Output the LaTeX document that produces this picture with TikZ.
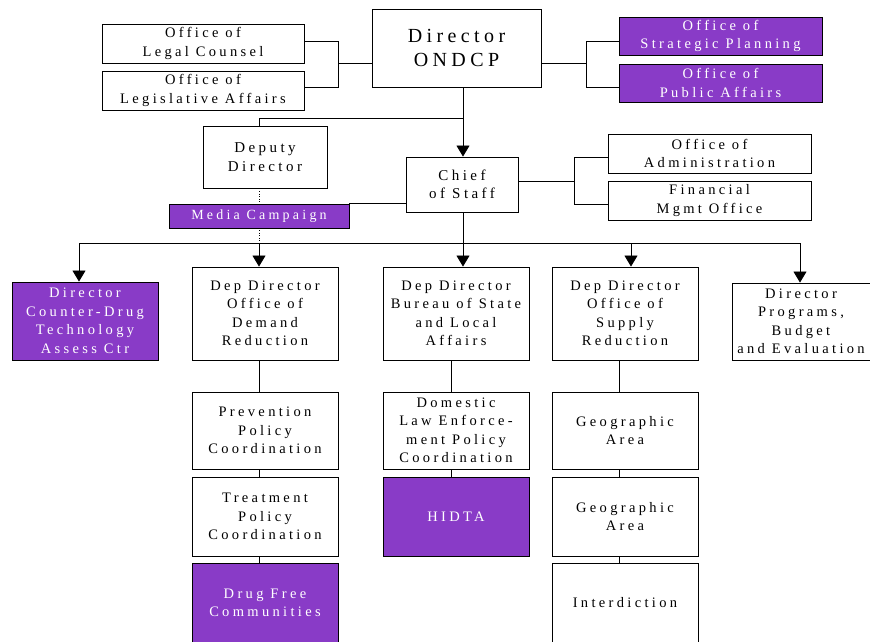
\documentclass[tikz,border=0pt]{standalone}
\usepackage{fontspec}
\setmainfont{Liberation Serif}
\newfontfamily\boxfont{Liberation Serif}[LetterSpace=23]
\usetikzlibrary{arrows.meta}
\definecolor{ondcppurple}{RGB}{137,59,199}
\tikzset{
  box/.style={draw=black, line width=0.9pt, fill=white, rectangle, inner sep=0pt, align=center,
    font={\boxfont\fontsize{14.5}{18.5}\selectfont}},
  pbox/.style={box, fill=ondcppurple, text=white},
  conn/.style={line width=0.8pt, black},
  arr/.style={conn, -{Triangle[width=13pt,length=11pt]}},
}
\begin{document}
\begin{tikzpicture}[x=1pt,y=-1pt]
\useasboundingbox (0,0) rectangle (870,641);
% top level
\node[box, minimum width=202pt, minimum height=39pt] (legal) at (203,43.5) {Office of\\Legal Counsel};
\node[box, minimum width=202pt, minimum height=39pt] (legis) at (203,90.5) {Office of\\Legislative Affairs};
\node[box, minimum width=169pt, minimum height=78pt, font={\fontspec{Liberation Serif}[LetterSpace=22]\fontsize{20}{24}\selectfont}] (dir) at (456.5,48) {Director\\ONDCP};
\node[pbox, minimum width=203pt, minimum height=38pt] (strat) at (720.5,36) {Office of\\Strategic Planning};
\node[pbox, minimum width=203pt, minimum height=38pt] (pub) at (720.5,83) {Office of\\Public Affairs};
% second level
\node[box, minimum width=124pt, minimum height=62pt, font={\boxfont\fontsize{15}{19}\selectfont}] (deputy) at (265,157) {Deputy\\Director};
\node[box, minimum width=112pt, minimum height=55pt, font={\boxfont\fontsize{15}{18.5}\selectfont}] (chief) at (462,184.5) {Chief\\of Staff};
\node[box, minimum width=203pt, minimum height=39pt] (admin) at (709.5,153.5) {Office of\\Administration};
\node[box, minimum width=203pt, minimum height=39pt] (fin) at (709.5,200.5) {Financial\\Mgmt Office};
% connector coordinates
\coordinate (lbt) at (338,41);
\coordinate (lbm) at (338,63);
\coordinate (lbb) at (338,87);
\coordinate (rbt) at (586,41);
\coordinate (rbm) at (586,63);
\coordinate (rbb) at (586,87);
\coordinate (dc) at (463,118);
\coordinate (dtop) at (259,118);
\coordinate (cbt) at (574,157);
\coordinate (cbm) at (574,181);
\coordinate (cbb) at (574,204);
\coordinate (busL) at (79,243);
\coordinate (busA) at (259,243);
\coordinate (busB) at (463,243);
\coordinate (busC) at (631,243);
\coordinate (busR) at (800,243);
\coordinate (colA) at (259,380);
\coordinate (colB) at (451,380);
\coordinate (colC) at (619,380);
% connectors top
\draw[conn] (legal.east |- lbt) -- (lbt) -- (lbb) -- (legis.east |- lbb);
\draw[conn] (lbm) -- (dir.west |- lbm);
\draw[conn] (dir.east |- rbm) -- (rbm);
\draw[conn] (strat.west |- rbt) -- (rbt) -- (rbb) -- (pub.west |- rbb);
\draw[arr] (dir.south -| dc) -- (chief.north -| dc);
\draw[conn] (dc) -- (dtop) -- (dtop |- deputy.north);
\draw[conn] (chief.east |- cbm) -- (cbm);
\draw[conn] (admin.west |- cbt) -- (cbt) -- (cbb) -- (fin.west |- cbb);
% dotted line deputy
\draw[line width=0.6pt, dotted] (deputy.south -| dtop) -- (busA);
\node[pbox, minimum width=180pt, minimum height=24pt, font={\boxfont\fontsize{14}{17}\selectfont}] (media) at (259,216) {Media Campaign};
\draw[conn] (media.north east) -- (chief.west |- media.north east);
% bus
\draw[conn] (chief.south -| dc) -- (busB);
\draw[conn] (busL) -- (busR);
% third level
\node[pbox, minimum width=146pt, minimum height=78pt] (cdrug) at (85,321) {Director\\Counter-Drug\\Technology\\Assess Ctr};
\node[box, minimum width=146pt, minimum height=93pt] (demand) at (265,313.5) {Dep Director\\Office of\\Demand\\Reduction};
\node[box, minimum width=146pt, minimum height=93pt] (bureau) at (456,313.5) {Dep Director\\Bureau of State\\and Local\\Affairs};
\node[box, minimum width=146pt, minimum height=93pt] (supply) at (625,313.5) {Dep Director\\Office of\\Supply\\Reduction};
\node[box, minimum width=138pt, minimum height=77pt] (prog) at (801,321.5) {Director\\Programs,\\Budget\\and Evaluation};
\draw[arr] (busL) -- (cdrug.north -| busL);
\draw[arr] (busA) -- (demand.north -| busA);
\draw[arr] (busB) -- (bureau.north -| busB);
\draw[arr] (busC) -- (supply.north -| busC);
\draw[arr] (busR) -- (prog.north -| busR);
% fourth level
\node[box, minimum width=146pt, minimum height=77pt] (prev) at (265,430.5) {Prevention\\Policy\\Coordination};
\node[box, minimum width=146pt, minimum height=79pt] (treat) at (265,516.5) {Treatment\\Policy\\Coordination};
\node[pbox, minimum width=146pt, minimum height=80pt] (dfc) at (265,603) {Drug Free\\Communities};
\node[box, minimum width=146pt, minimum height=77pt] (dom) at (456,430.5) {Domestic\\Law Enforce-\\ment Policy\\Coordination};
\node[pbox, minimum width=146pt, minimum height=79pt] (hidta) at (456,516.5) {HIDTA};
\node[box, minimum width=146pt, minimum height=77pt] (geo1) at (625,430.5) {Geographic\\Area};
\node[box, minimum width=146pt, minimum height=79pt] (geo2) at (625,516.5) {Geographic\\Area};
\node[box, minimum width=146pt, minimum height=80pt] (inter) at (625,603) {Interdiction};
\draw[conn] (demand.south -| colA) -- (prev.north -| colA);
\draw[conn] (prev.south -| colA) -- (treat.north -| colA);
\draw[conn] (treat.south -| colA) -- (dfc.north -| colA);
\draw[conn] (bureau.south -| colB) -- (dom.north -| colB);
\draw[conn] (dom.south -| colB) -- (hidta.north -| colB);
\draw[conn] (supply.south -| colC) -- (geo1.north -| colC);
\draw[conn] (geo1.south -| colC) -- (geo2.north -| colC);
\draw[conn] (geo2.south -| colC) -- (inter.north -| colC);
\end{tikzpicture}
\end{document}
